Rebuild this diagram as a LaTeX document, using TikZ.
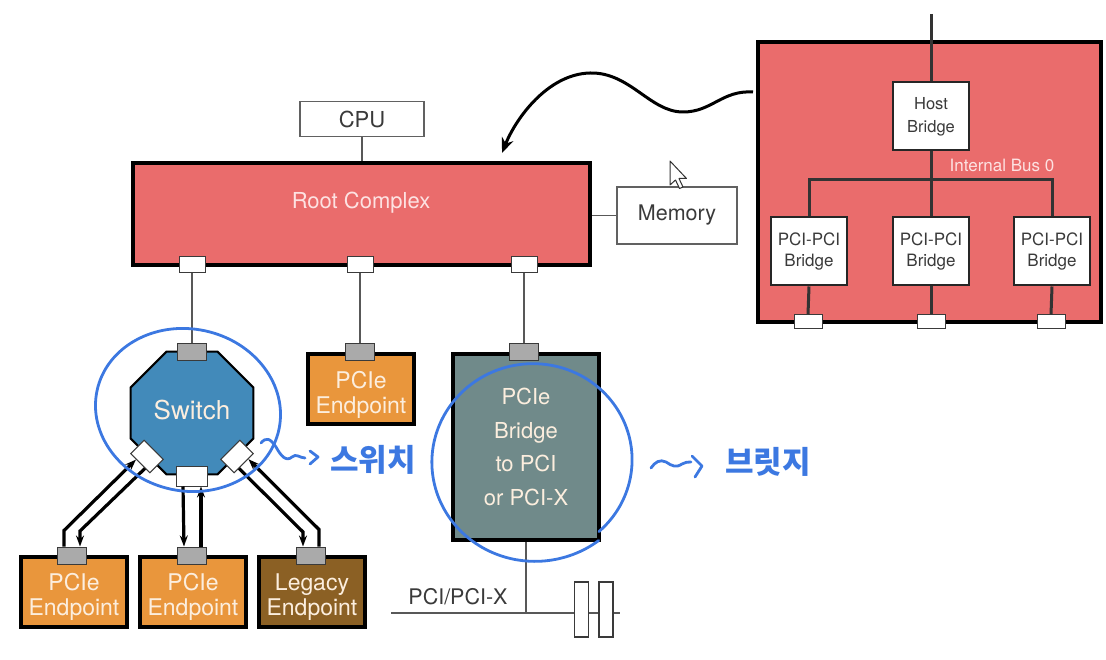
\documentclass[tikz,border=0pt]{standalone}
\usepackage{fontspec}
\setmainfont{TeX Gyre Heros}
\newfontfamily\hangul{Noto Sans CJK KR}
\usetikzlibrary{shapes.geometric,arrows.meta,calc}

\definecolor{rcred}{RGB}{234,108,108}
\definecolor{eporange}{RGB}{233,150,60}
\definecolor{legbrown}{RGB}{139,96,36}
\definecolor{swblue}{RGB}{66,138,186}
\definecolor{brteal}{RGB}{112,138,138}
\definecolor{portgray}{RGB}{170,170,170}
\definecolor{cream}{RGB}{252,238,222}
\definecolor{pinkwhite}{RGB}{253,226,226}
\definecolor{pen}{RGB}{60,120,225}
\definecolor{ink}{RGB}{58,58,58}

\tikzset{
  fsz/.style={font=\fontsize{#1}{#1}\selectfont},
  whitebox/.style={draw=ink!80, line width=1.4pt, fill=white, text=ink, inner sep=0pt},
  redbox/.style={draw=black, line width=4pt, fill=rcred, inner sep=0pt},
  epbox/.style={draw=black, line width=3.5pt, fill=eporange, align=center, inner sep=0pt,
    minimum width=106pt, minimum height=70pt},
  eptext/.style={text=cream, align=center, inner sep=0pt, font=\fontsize{23}{25.5}\selectfont},
  wport/.style={draw=ink, line width=1pt, fill=white, inner sep=0pt, minimum width=#1, minimum height=16pt},
  wport/.default=26pt,
  gport/.style={draw=ink, line width=1pt, fill=portgray, inner sep=0pt, minimum width=29pt, minimum height=17pt},
  conn/.style={draw=ink!85, line width=1.3pt},
  busline/.style={draw=black!80, line width=3pt},
  flow/.style={draw=black, line width=3.2pt, -{Stealth[length=11pt,width=8pt]}},
  ppbox/.style={draw=black!85, line width=2pt, fill=white, text=ink, align=center, inner sep=0pt,
    minimum width=76pt, minimum height=68pt, font=\fontsize{17}{21}\selectfont},
  penline/.style={draw=pen, line width=2.8pt, line cap=round, line join=round},
  note/.style={text=pen, font=\hangul\bfseries\fontsize{31}{31}\selectfont},
}

\begin{document}
\begin{tikzpicture}[x=1pt,y=-1pt]
\useasboundingbox (0,0) rectangle (1106,660);

% ---------------- PCI Express topology ----------------
\node[whitebox, minimum width=124pt, minimum height=35pt, fsz=22] (cpu) at (362,119) {CPU};
\node[redbox, minimum width=457pt, minimum height=102pt] (rc) at (361.5,214) {};
\node[text=pinkwhite, fsz=22] (rclbl) at (361,203) {Root Complex};
\node[whitebox, minimum width=120pt, minimum height=57pt, fsz=21.5] (mem) at (677,215.5) {Memory};
\draw[conn] (cpu.south) -- (rc.north -| cpu.south);
\draw[conn] (mem.west) -- (rc.east |- mem.west);

% root complex ports
\node[wport] (rp1) at (192,265) {};
\node[wport] (rp2) at (360,265) {};
\node[wport] (rp3) at (524,265) {};

% switch
\node[regular polygon, regular polygon sides=8, minimum size=133pt, inner sep=0pt,
      draw=black, line width=2pt, fill=swblue] (sw) at (192,413) {};
\node[text=cream, fsz=26] (swlbl) at (192,410) {Switch};
\node[gport] (swt) at (192,352) {};
\node[wport=31pt, minimum height=20pt] (swb) at (192,476) {};
\node[wport=27pt, minimum height=19pt, rotate=-45] (swl) at (147,456.5) {};
\node[wport=27pt, minimum height=19pt, rotate=45] (swr) at (237,456.5) {};

% endpoint on the root complex
\node[epbox] (ep0) at (361,389) {};
\node[eptext] (ep0t) at (361,395) {PCIe\\Endpoint};
\node[gport] (ep0p) at (360,352) {};

% bridge to PCI / PCI-X
\node[draw=black, line width=3.5pt, fill=brteal, text=cream, align=center, inner sep=0pt,
      minimum width=146pt, minimum height=186pt, font=\fontsize{22}{33.5}\selectfont] (br) at (526,447)
      {PCIe\\Bridge\\to PCI\\or PCI-X};
\node[gport] (brp) at (524,352) {};

\draw[conn] (rp1.south) -- (swt.north);
\draw[conn] (rp2.south) -- (ep0p.north);
\draw[conn] (rp3.south) -- (brp.north);

% endpoints below the switch
\node[epbox] (ep1) at (74,592) {};
\node[epbox] (ep2) at (193,592) {};
\node[epbox, fill=legbrown] (ep3) at (312,592) {};
\node[eptext] (ep1t) at (74,597) {PCIe\\Endpoint};
\node[eptext] (ep2t) at (193,597) {PCIe\\Endpoint};
\node[eptext] (ep3t) at (312,597) {Legacy\\Endpoint};
\node[gport] (ep1p) at (72,555.5) {};
\node[gport] (ep2p) at (192,555.5) {};
\node[gport] (ep3p) at (311,555.5) {};

% links between switch and endpoints
\draw[flow] ([xshift=-8pt]ep1p.north) -- ++(0,-16) -- ($(swl.south west)!0.3!(swl.south east)$);
\draw[flow] ($(swl.south west)!0.75!(swl.south east)$) -- (80,531) -- ([xshift=8pt]ep1p.north);
\draw[flow] ([xshift=-9pt]swb.south) -- ([xshift=-8pt]ep2p.north);
\draw[flow] ([xshift=9pt]ep2p.north) -- ([xshift=9pt]swb.south);
\draw[flow] ($(swr.south west)!0.25!(swr.south east)$) -- (303,532) -- ([xshift=-8pt]ep3p.north);
\draw[flow] ([xshift=8pt]ep3p.north) -- ++(0,-17) -- ($(swr.south west)!0.72!(swr.south east)$);

% PCI / PCI-X bus with two slots
\coordinate (busL) at (391,613);
\coordinate (busR) at (620,613);
\draw[conn, line width=1.5pt] (br.south) -- (br.south |- busL);
\draw[conn, line width=1.5pt] (busL) -- (busR);
\node[draw=ink, line width=1.2pt, fill=white, minimum width=14pt, minimum height=55pt, inner sep=0pt] (slot1) at (581.5,609.5) {};
\node[draw=ink, line width=1.2pt, fill=white, minimum width=14pt, minimum height=55pt, inner sep=0pt] (slot2) at (606,609.5) {};
\node[text=ink, fsz=21.5] (pcilbl) at (458,597) {PCI/PCI-X};

% ---------------- PCI host bridge block ----------------
\node[redbox, minimum width=343pt, minimum height=280pt] (hostblk) at (929.5,182) {};
\coordinate (hosttop) at (931,14);
\node[ppbox, minimum height=68pt, font=\fontsize{16.5}{23}\selectfont] (hb) at (931,116.5) {Host\\Bridge};
\node[ppbox] (pp1) at (809,251.5) {PCI-PCI\\Bridge};
\node[ppbox] (pp2) at (931,251.5) {PCI-PCI\\Bridge};
\node[ppbox] (pp3) at (1052,251.5) {PCI-PCI\\Bridge};
\draw[busline] (hosttop) -- (hb.north);
\draw[busline] (hb.south) -- (pp2.north);
\draw[busline] (pp1.north) -- ++(0,-37) -| (pp3.north);
\node[text=pinkwhite, fsz=17, anchor=center] (ib) at (1002,165) {Internal Bus 0};
\node[wport=28pt, minimum height=14pt] (hp1) at (808,322) {};
\node[wport=28pt, minimum height=14pt] (hp2) at (931,322) {};
\node[wport=28pt, minimum height=14pt] (hp3) at (1051,322) {};
\draw[busline] (pp1.south) -- (hp1.north);
\draw[busline] (pp2.south) -- (hp2.north);
\draw[busline] (pp3.south) -- (hp3.north);

% wavy arrow from the host block towards the root complex
\coordinate (wstart) at (753,92);
\coordinate (wend) at (502,153);
\draw[line width=3pt, -{Stealth[length=15pt,width=12pt]}] (wstart)
  .. controls (722,90) and (712,112) .. (683,112)
  .. controls (650,112) and (630,72) .. (590,73)
  .. controls (548,74) and (516,118) .. (wend);

% mouse pointer
\draw[draw=black!80, fill=white, line width=1pt, line join=round]
  (670,161) -- (670,185) -- (675.5,180) -- (679.5,188.5) -- (683,187) -- (679,178.5) -- (686.5,178.5) -- cycle;

% ---------------- pen annotations ----------------
\draw[penline, rotate around={-12:(188,410)}] (188,410) ellipse[x radius=93pt, y radius=81pt];
\draw[penline] plot[domain=52:408, samples=90, smooth]
  ({534+(105-8*(\x-52)/356)*cos(\x)}, {461+(101-6*(\x-52)/356)*sin(\x)});

% squiggle arrows and notes
\draw[penline] (261,443) .. controls (266,437) and (270,438) .. (276,447)
  .. controls (281,456) and (286,462) .. (292,457) .. controls (296,453) and (300,458) .. (305,458);
\draw[penline] (310,451) -- (318,457) -- (310,464);
\node[note] (note1) at (373,460) {스위치};

\draw[penline] (651,468) .. controls (655,462) and (660,459) .. (666,462)
  .. controls (672,466) and (676,468) .. (682,464) .. controls (685,462) and (688,462) .. (691,462);
\draw[penline] (692,456) -- (702,466) -- (695,477);
\node[note] (note2) at (768,462) {브릿지};

\end{tikzpicture}
\end{document}
